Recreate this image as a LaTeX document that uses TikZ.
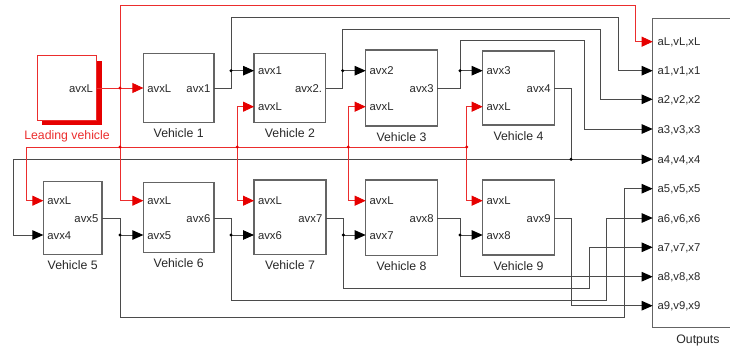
\documentclass[tikz,border=0pt]{standalone}
\usepackage{fontspec}
\setmainfont{Liberation Sans}
\usetikzlibrary{arrows.meta}
\definecolor{wirec}{RGB}{75,75,75}
\definecolor{blkc}{RGB}{100,100,100}
\definecolor{sigc}{RGB}{235,45,45}
\definecolor{tipred}{RGB}{230,0,0}
\definecolor{txtc}{RGB}{40,40,40}
\begin{document}
\begin{tikzpicture}[x=1pt,y=-1pt,
  vblock/.style={draw=blkc, line width=1.3pt, fill=white, inner sep=0pt, outer sep=0pt},
  inport/.style={anchor=west, inner sep=0pt, xshift=3.8pt, font=\fontsize{11.3}{12}\selectfont, text=txtc, text height=8.2pt, text depth=0pt},
  outport/.style={anchor=east, inner sep=0pt, xshift=-3.5pt, font=\fontsize{11.3}{12}\selectfont, text=txtc, text height=8.2pt, text depth=0pt},
  vlabel/.style={anchor=base, inner sep=0pt, font=\fontsize{12.3}{13}\selectfont, text=txtc},
  wire/.style={draw=wirec, line width=0.9pt},
  sigwire/.style={draw=sigc, line width=0.85pt},
  tip/.style={-{Triangle[length=11pt,width=9.5pt,color=black]}},
  rtip/.style={-{Triangle[length=11pt,width=10pt,color=tipred]}},
  jdot/.style={circle, fill=black, inner sep=0pt, minimum size=3.4pt},
  rdot/.style={circle, fill=tipred, inner sep=0pt, minimum size=3.2pt}
]
\useasboundingbox (0,0) rectangle (730,345);
\clip (0,0) rectangle (730,345);

% ---------- blocks ----------
\fill[tipred] (42.3,60.7) rectangle (101.7,125);
\node[draw=sigc, line width=0.9pt, fill=white, inner sep=0pt, outer sep=0pt,
      minimum width=59.4pt, minimum height=64.3pt] (lead) at (67,87.9) {};
\node[vblock, minimum width=70.7pt, minimum height=69.4pt] (v1) at (178.7,88) {};
\node[vblock, minimum width=71.7pt, minimum height=69.4pt] (v2) at (289.9,88) {};
\node[vblock, minimum width=71.6pt, minimum height=76pt] (v3) at (401.5,88) {};
\node[vblock, minimum width=71.6pt, minimum height=74pt] (v4) at (518.5,88) {};
\node[vblock, minimum width=58.7pt, minimum height=72.6pt] (v5) at (72.7,218) {};
\node[vblock, minimum width=70.7pt, minimum height=70pt] (v6) at (178.7,217.7) {};
\node[vblock, minimum width=72pt, minimum height=74.3pt] (v7) at (290,217.2) {};
\node[vblock, minimum width=71.6pt, minimum height=75.7pt] (v8) at (401.5,217.8) {};
\node[vblock, minimum width=71.6pt, minimum height=75pt] (v9) at (518.5,217.5) {};
\node[vblock, anchor=north west, minimum width=110pt, minimum height=309pt] (out) at (652.7,18.3) {};

% ---------- port coordinates ----------
\coordinate (leadO) at (lead.east |- 0,88);
\coordinate (v1L) at (v1.west |- 0,88);   \coordinate (v1o) at (v1.east |- 0,88);
\coordinate (v2a) at (v2.west |- 0,70.7); \coordinate (v2L) at (v2.west |- 0,106.7); \coordinate (v2o) at (v2.east |- 0,88);
\coordinate (v3a) at (v3.west |- 0,70.7); \coordinate (v3L) at (v3.west |- 0,106.7); \coordinate (v3o) at (v3.east |- 0,88);
\coordinate (v4a) at (v4.west |- 0,70.7); \coordinate (v4L) at (v4.west |- 0,106.7); \coordinate (v4o) at (v4.east |- 0,88);
\coordinate (v5L) at (v5.west |- 0,200.7); \coordinate (v5a) at (v5.west |- 0,235); \coordinate (v5o) at (v5.east |- 0,218);
\coordinate (v6L) at (v6.west |- 0,200.7); \coordinate (v6a) at (v6.west |- 0,235); \coordinate (v6o) at (v6.east |- 0,218);
\coordinate (v7L) at (v7.west |- 0,200.7); \coordinate (v7a) at (v7.west |- 0,235); \coordinate (v7o) at (v7.east |- 0,218);
\coordinate (v8L) at (v8.west |- 0,200.7); \coordinate (v8a) at (v8.west |- 0,235); \coordinate (v8o) at (v8.east |- 0,218);
\coordinate (v9L) at (v9.west |- 0,200.7); \coordinate (v9a) at (v9.west |- 0,235); \coordinate (v9o) at (v9.east |- 0,218);
\coordinate (oL) at (out.west |- 0,41.7);
\coordinate (o1) at (out.west |- 0,70.7);
\coordinate (o2) at (out.west |- 0,99.3);
\coordinate (o3) at (out.west |- 0,129);
\coordinate (o4) at (out.west |- 0,159.3);
\coordinate (o5) at (out.west |- 0,188.7);
\coordinate (o6) at (out.west |- 0,218);
\coordinate (o7) at (out.west |- 0,247.3);
\coordinate (o8) at (out.west |- 0,276.7);
\coordinate (o9) at (out.west |- 0,305.7);

% ---------- port labels ----------
\node[outport] (tlead) at (leadO) {avxL};
\node[inport] (t1L) at (v1L) {avxL};  \node[outport] (t1o) at (v1o) {avx1};
\node[inport] (t2a) at (v2a) {avx1};  \node[inport] (t2L) at (v2L) {avxL}; \node[outport] (t2o) at (v2o) {avx2.};
\node[inport] (t3a) at (v3a) {avx2};  \node[inport] (t3L) at (v3L) {avxL}; \node[outport] (t3o) at (v3o) {avx3};
\node[inport] (t4a) at (v4a) {avx3};  \node[inport] (t4L) at (v4L) {avxL}; \node[outport] (t4o) at (v4o) {avx4};
\node[inport] (t5L) at (v5L) {avxL};  \node[inport] (t5a) at (v5a) {avx4}; \node[outport] (t5o) at (v5o) {avx5};
\node[inport] (t6L) at (v6L) {avxL};  \node[inport] (t6a) at (v6a) {avx5}; \node[outport] (t6o) at (v6o) {avx6};
\node[inport] (t7L) at (v7L) {avxL};  \node[inport] (t7a) at (v7a) {avx6}; \node[outport] (t7o) at (v7o) {avx7};
\node[inport] (t8L) at (v8L) {avxL};  \node[inport] (t8a) at (v8a) {avx7}; \node[outport] (t8o) at (v8o) {avx8};
\node[inport] (t9L) at (v9L) {avxL};  \node[inport] (t9a) at (v9a) {avx8}; \node[outport] (t9o) at (v9o) {avx9};
\node[inport, xshift=1pt] (toL) at (oL) {aL,vL,xL};
\node[inport, xshift=1pt] (to1) at (o1) {a1,v1,x1};
\node[inport, xshift=1pt] (to2) at (o2) {a2,v2,x2};
\node[inport, xshift=1pt] (to3) at (o3) {a3,v3,x3};
\node[inport, xshift=1pt] (to4) at (o4) {a4,v4,x4};
\node[inport, xshift=1pt] (to5) at (o5) {a5,v5,x5};
\node[inport, xshift=1pt] (to6) at (o6) {a6,v6,x6};
\node[inport, xshift=1pt] (to7) at (o7) {a7,v7,x7};
\node[inport, xshift=1pt] (to8) at (o8) {a8,v8,x8};
\node[inport, xshift=1pt] (to9) at (o9) {a9,v9,x9};

% ---------- block labels ----------
\node[vlabel, text=sigc] (llead) at (67,139.5) {Leading vehicle};
\node[vlabel] (l1) at ([yshift=-15pt]v1.south) {Vehicle 1};
\node[vlabel] (l2) at ([yshift=-15pt]v2.south) {Vehicle 2};
\node[vlabel] (l3) at ([yshift=-15pt]v3.south) {Vehicle 3};
\node[vlabel] (l4) at ([yshift=-15pt]v4.south) {Vehicle 4};
\node[vlabel] (l5) at ([yshift=-15pt]v5.south) {Vehicle 5};
\node[vlabel] (l6) at ([yshift=-15pt]v6.south) {Vehicle 6};
\node[vlabel] (l7) at ([yshift=-15pt]v7.south) {Vehicle 7};
\node[vlabel] (l8) at ([yshift=-15pt]v8.south) {Vehicle 8};
\node[vlabel] (l9) at ([yshift=-15pt]v9.south) {Vehicle 9};
\node[vlabel] (lout) at (697.9,343) {Outputs};

% ---------- junction coordinates ----------
\coordinate (rj1) at (120,88);
\coordinate (rj2) at (120,147);
\coordinate (rj3) at (237.3,147);
\coordinate (rj4) at (348.3,147);
\coordinate (rj5) at (466.7,147);
\coordinate (j1) at (231,70.7);
\coordinate (j2) at (342.7,70.7);
\coordinate (j3) at (460,70.7);
\coordinate (j4) at (571,159.3);
\coordinate (j5) at (120,235);
\coordinate (j6) at (231,235);
\coordinate (j7) at (343.3,235);
\coordinate (j8) at (460,235);

% ---------- gray signal lines ----------
\draw[wire] (v1o) -| (j1);
\draw[wire,tip] (j1) -- (v2a);
\draw[wire,tip] (j1) |- (618.3,17.3) |- (o1);
\draw[wire] (v2o) -| (j2);
\draw[wire,tip] (j2) -- (v3a);
\draw[wire,tip] (j2) |- (600.7,29.3) |- (o2);
\draw[wire] (v3o) -| (j3);
\draw[wire,tip] (j3) -- (v4a);
\draw[wire,tip] (j3) |- (584,40.7) |- (o3);
\draw[wire] (v4o) -| (j4);
\draw[wire,tip] (j4) -- (o4);
\draw[wire,tip] (j4) -- (13.3,159.3) |- (v5a);

\draw[wire] (v5o) -| (j5);
\draw[wire,tip] (j5) -- (v6a);
\draw[wire,tip] (j5) |- (624,317.3) |- (o5);
\draw[wire] (v6o) -| (j6);
\draw[wire,tip] (j6) -- (v7a);
\draw[wire,tip] (j6) |- (606.7,300) |- (o6);
\draw[wire] (v7o) -| (j7);
\draw[wire,tip] (j7) -- (v8a);
\draw[wire,tip] (j7) |- (589,288) |- (o7);
\draw[wire] (v8o) -| (j8);
\draw[wire,tip] (j8) -- (v9a);
\draw[wire,tip] (j8) |- (o8);
\draw[wire,tip] (v9o) -- (571,218) |- (o9);

% ---------- red leader lines ----------
\draw[sigwire] (leadO) -- (rj1);
\draw[sigwire,rtip] (rj1) -- (v1L);
\draw[sigwire,rtip] (rj1) |- (635.7,5) |- (oL);
\draw[sigwire] (rj1) -- (rj2);
\draw[sigwire,rtip] (rj2) |- (v6L);
\draw[sigwire,rtip] (rj2) -- (26,147) |- (v5L);
\draw[sigwire] (rj2) -- (rj5);
\draw[sigwire,rtip] (rj3) |- (v2L);
\draw[sigwire,rtip] (rj3) |- (v7L);
\draw[sigwire,rtip] (rj4) |- (v3L);
\draw[sigwire,rtip] (rj4) |- (v8L);
\draw[sigwire,rtip] (rj5) |- (v4L);
\draw[sigwire,rtip] (rj5) |- (v9L);

% ---------- junction dots ----------
\node[rdot] (d1) at (rj1) {};
\node[rdot] (d2) at (rj2) {};
\node[rdot] (d3) at (rj3) {};
\node[rdot] (d4) at (rj4) {};
\node[rdot] (d5) at (rj5) {};
\node[jdot] (e1) at (j1) {};
\node[jdot] (e2) at (j2) {};
\node[jdot] (e3) at (j3) {};
\node[jdot] (e4) at (j4) {};
\node[jdot] (e5) at (j5) {};
\node[jdot] (e6) at (j6) {};
\node[jdot] (e7) at (j7) {};
\node[jdot] (e8) at (j8) {};
\end{tikzpicture}
\end{document}
